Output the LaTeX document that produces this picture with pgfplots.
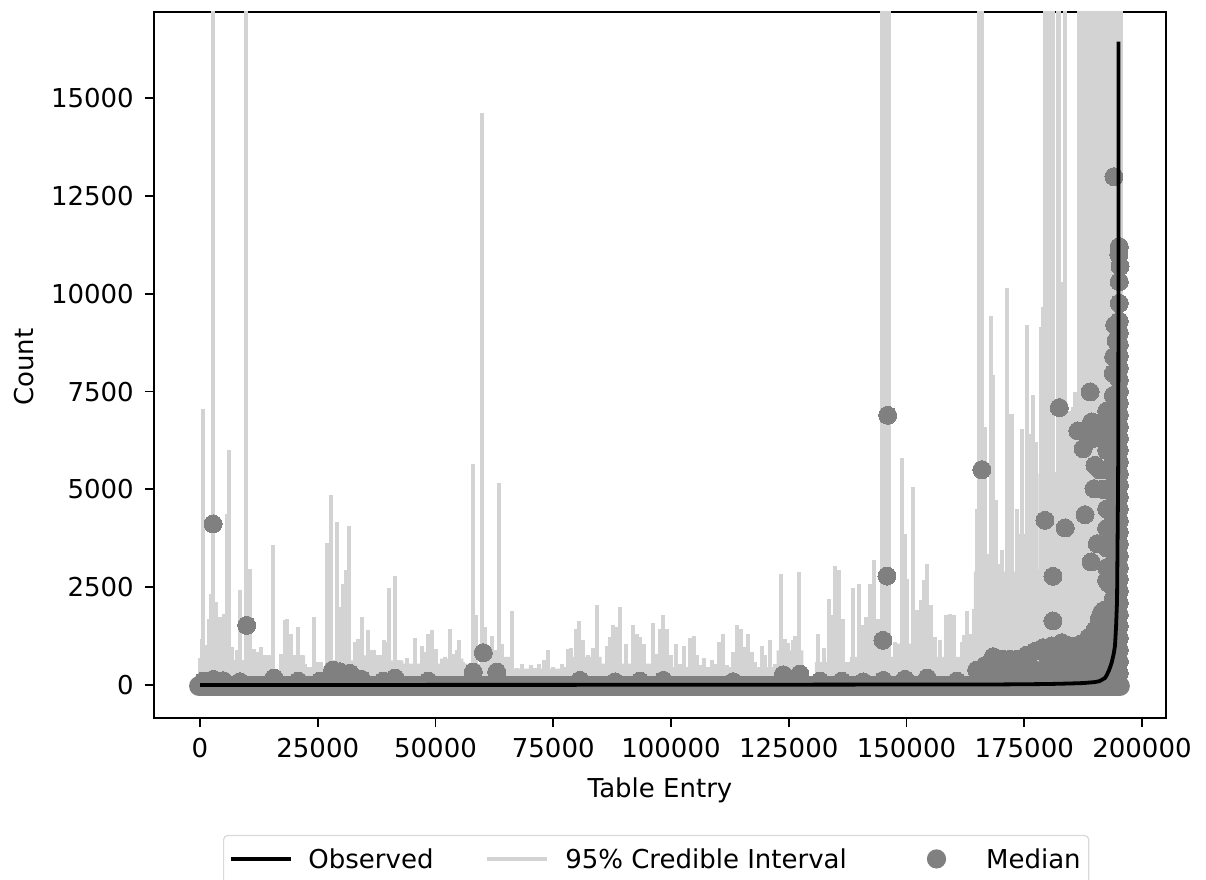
\documentclass[border=0pt]{standalone}
\usepackage{pgfplots}
\pgfplotsset{compat=1.18}
\usepackage{fontspec}
\setmainfont{DejaVu Sans}
\definecolor{medgray}{HTML}{808080}
\definecolor{cigray}{HTML}{D3D3D3}
\begin{document}
\fontsize{13bp}{15bp}\selectfont
\begin{tikzpicture}
\useasboundingbox (0,0) rectangle (603bp,440bp);
\begin{axis}[
  at={(77bp,81bp)}, anchor=south west,
  scale only axis, width=506bp, height=353bp,
  xmin=-9770, xmax=205100, ymin=-843, ymax=17200,
  clip mode=individual,
  xtick={0,25000,50000,75000,100000,125000,150000,175000,200000},
  ytick={0,2500,5000,7500,10000,12500,15000},
  scaled ticks=false,
  /pgf/number format/1000 sep={},
  /pgf/number format/fixed,
  /pgf/number format/assume math mode=true,
  tick style={black, line width=0.9bp},
  tick align=outside, major tick length=4.6bp,
  xtick pos=bottom, ytick pos=left,
  axis line style={line width=0.9bp},
  x tick label style={yshift=-1bp},
  y tick label style={xshift=-1bp},
  xlabel={Table Entry}, ylabel={Count},
  xlabel style={at={(axis description cs:0.5,0)}, anchor=north, yshift=-25.5bp},
  ylabel style={at={(axis description cs:0,0.5)}, anchor=south, yshift=55.5bp, xshift=-1bp},
  legend columns=3,
  legend cell align=left,
  legend style={
    at={(axis description cs:0.0682,-0.1657)}, anchor=north west,
    draw=black!15, line width=0.6bp, rounded corners=2bp,
    inner xsep=2.5bp, inner ysep=5bp,
    /tikz/column 2/.style={column sep=24.5bp},
    /tikz/column 4/.style={column sep=28bp},
    /tikz/nodes={inner sep=1.5bp, anchor=base west},
  },
]
\addlegendimage{legend image code/.code={\draw[black, line width=1.9bp] (0,4.7bp) -- (30bp,4.7bp);}}
\addlegendentry{\hspace{6.5bp}Observed}
\addlegendimage{legend image code/.code={\draw[cigray, line width=1.9bp] (0,4.7bp) -- (30bp,4.7bp);}}
\addlegendentry{\hspace{6.5bp}95\% Credible Interval}
\addlegendimage{legend image code/.code={\fill[medgray] (15bp,4.7bp) circle (4.5bp);\path (0,4.7bp) (30bp,4.7bp);}}
\addlegendentry{\hspace{8bp}Median\hspace{1.5bp}}

% solid floor of the credible intervals, left end of each step
\addplot[forget plot, const plot mark left, fill=cigray, draw=none] coordinates {
(0,971) (6723,630) (10615,758) (15222,0) (16985,758) (22293,460) (26539,630) (32554,1050) (34677,758) (38924,630) (43170,545) (50955,673) (55908,545) (63694,716) (65817,417) (76433,460) (78000,716) (85279,545) (96000,588) (99000,460) (117000,545) (118187,460) (122433,886) (128094,0) (130571,588) (138004,716) (147900,1056) (152000,716) (164300,2900) (178000,5400) (184000,6900) (186500,6900)
} \closedcycle;

% 95% credible interval upper ends
\addplot[forget plot, ycomb, cigray, line width=1.9bp] table {
x y
0 700
354 1184
708 7046
1415 1014
1911 1695
2406 2334
2831 18000
3326 2121
3892 1738
4600 1738
5095 1823
5662 4379
6086 6015
6723 971
7219 630
7926 886
8492 2437
9059 630
9766 18000
10615 2973
11464 929
12172 843
13022 971
13800 758
14720 758
15570 3587
17126 801
18046 1670
18542 1695
19250 1312
19957 758
20877 1482
21585 758
22293 545
23213 460
24133 1738
25124 588
25619 588
26893 3630
27883 4865
28450 630
29157 4166
29723 1994
30431 2590
30997 2931
31563 4073
32908 1099
33616 1184
34465 1738
35031 716
35739 1397
36446 886
37013 886
37720 758
38216 758
39065 1142
39631 1099
40197 2488
41471 2786
42320 630
43877 699
44727 545
45576 1201
46354 545
47204 997
47770 843
48477 1295
49327 1397
50105 929
51308 673
52016 716
53007 1440
53785 801
54493 886
55059 1142
55908 588
57961 5657
58527 1781
59942 14618
60508 1482
61216 971
62066 1244
62774 886
63481 5163
64048 1056
64755 716
66171 1891
67233 443
68294 545
69214 417
70205 503
71125 443
71974 545
73106 648
73956 886
75017 460
75725 375
76857 545
78202 929
78769 946
79759 1440
80538 1636
81387 1142
82448 758
83510 946
84359 2036
85279 460
86341 988
87049 1227
87756 1542
88251 1482
89242 1994
90516 1039
92002 1542
92710 1295
93417 1227
94266 1039
96249 1593
96957 801
97667 1440
98371 1798
99079 1440
99928 758
101131 1056
101910 545
102830 997
104037 1210
104883 1244
105589 758
106156 503
106935 699
108633 648
109341 545
110261 1099
111110 1295
111818 503
113233 843
113941 1542
114790 1440
115568 971
116418 1295
117126 843
117834 588
119249 997
119957 758
120948 1142
122079 545
123422 2846
124201 1184
124767 1082
125828 1142
126395 1244
127102 2888
128113 460
131280 1295
132484 954
133616 2190
134464 1781
134889 3033
135743 2948
136583 1695
138570 2488
139844 2590
140835 1525
141401 1738
142250 2590
143100 3186
144020 1695
144727 18000
145293 18000
145789 18000
146284 18000
147558 1099
148973 5811
149681 3868
150176 2718
150742 929
151450 5061
152158 1908
153007 2181
153715 2675
154352 3084
155131 2036
156050 1227
157111 1142
158386 1781
159235 1823
160084 1781
161711 1099
162207 1270
162915 1891
163622 1312
164330 1951
164896 4507
165463 18000
166029 18000
166666 6594
167161 3357
167868 9440
168435 7924
169001 4720
169567 3101
170204 3442
170770 2700
171266 10156
171974 6935
172469 6935
172823 2846
173389 4507
173955 3868
174451 6552
174946 3868
175654 9202
176220 6424
176857 7404
177423 6200
177988 2973
178484 9160
178979 9670
179404 18000
179900 18000
180324 7105
180749 18000
181032 18000
181598 5444
182235 18000
182447 18000
182942 10309
183579 18000
184146 7000
184712 7000
185278 7105
185845 7500
186552 18000
187118 18000
187684 18000
188250 18000
188816 18000
189382 18000
189948 18000
190514 18000
191080 18000
191646 18000
192212 18000
192778 18000
193344 18000
193910 18000
194476 18000
195042 18000
195470 18000
};

% medians: the low band, all medians near zero
\addplot[forget plot, medgray, line width=10bp, line cap=round] coordinates {(-200,-30) (195300,-30)};

% medians
\addplot[forget plot, medgray, only marks, mark=*, mark size=4.5bp, mark options={solid, fill=medgray, draw=medgray, line width=0pt}] table {
x y
708 100
2831 145
4954 110
8492 85
15711 179
20877 100
25478 100
28166 383
29723 340
31847 298
34323 145
38924 100
41400 179
48477 100
58031 332
62985 332
80679 119
88110 80
93417 100
98371 119
113233 85
123846 262
127387 281
131633 100
136234 100
140835 80
145081 119
149681 145
154422 179
160650 100
2760 4115
9908 1525
60155 826
145000 1142
145860 2785
146000 6893
166000 5504
179400 4209
181100 2778
181100 1636
182447 7089
183700 4013
186400 6492
187500 6040
187900 4354
189200 3144
189000 7489
189300 6722
189500 6296
194054 12993
164896 383
166666 500
168435 724
170204 660
171974 656
173743 660
175512 767
177281 860
179050 954
180822 1000
182942 1082
184712 1000
186835 1040
188605 1200
190020 1406
190940 1700
191434 1849
192497 2675
192992 2590
191932 1908
190515 1397
190515 3612
189807 5018
190020 5615
168000 150
170000 150
172000 150
174000 150
176000 150
178000 150
180000 150
182000 150
184000 150
186000 150
188000 150
190000 150
192000 150
194000 150
169000 400
171000 400
173000 400
175000 400
177000 400
179000 400
181000 400
183000 400
185000 400
187000 400
189000 400
191000 400
193000 400
180000 700
182000 700
184000 700
186000 700
188000 700
190000 800
192000 800
194000 800
191000 1100
192000 1300
193000 1300
194000 1300
192497 3000
192497 3500
192497 4000
192497 4500
192497 5000
192497 5500
192497 6000
192497 6500
192497 7000
191500 6300
191500 5000
191000 5500
191000 6700
193912 1000
193912 1400
193912 1800
193912 2200
193912 2600
193912 3000
193912 3400
193912 3800
193912 4200
193912 4600
193912 5000
193912 5400
193912 5800
193912 6200
193912 6600
193912 7000
193912 7400
193912 7966
194000 8390
194500 8800
194200 9200
195185 0
195185 300
195185 600
195185 900
195185 1200
195185 1500
195185 1800
195185 2100
195185 2400
195185 2700
195185 3000
195185 3300
195185 3600
195185 3900
195185 4200
195185 4500
195185 4800
195185 5100
195185 5400
195185 5700
195185 6000
195185 6300
195185 6600
195185 6900
195185 7200
195185 7500
195185 7800
195185 8100
195185 8400
195185 8700
195185 9000
195185 9300
195185 9755
195185 10309
195350 10700
195100 11000
195185 11204
};

% observed counts
\addplot[forget plot, black, line width=1.9bp] coordinates {
(0,1) (100000,5) (170000,15) (180000,25) (185000,40) (187548,50) (190000,75) (191000,100) (192145,179) (192500,250) (193000,375) (193560,571) (194000,800) (194267,1000) (194500,1500) (194701,2130) (194880,4500) (194950,5801) (194990,8352) (195010,11000) (195015,13000) (195020,16443)
};
\end{axis}
\end{tikzpicture}
\end{document}
